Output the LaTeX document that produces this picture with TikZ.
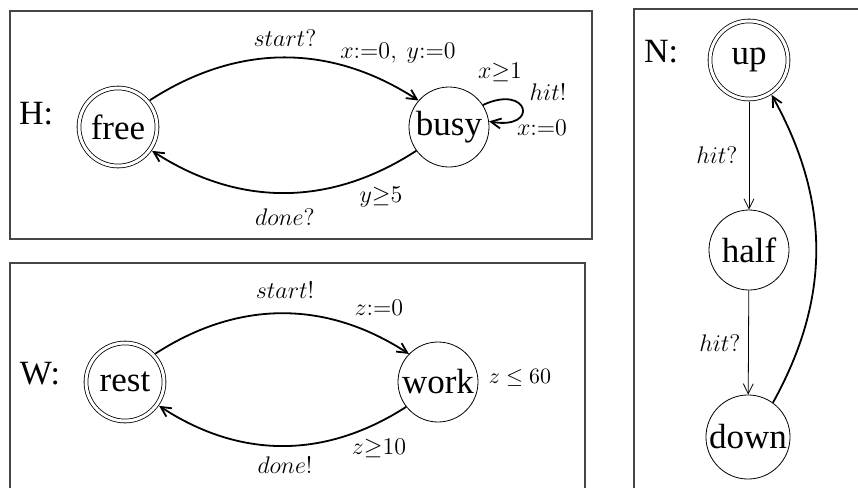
\documentclass[tikz,border=0pt]{standalone}
\usepackage{fontspec}
\setmainfont{Liberation Serif}
\definecolor{boxgray}{RGB}{70,70,70}
\usetikzlibrary{arrows.meta,positioning}

\tikzset{
  loc/.style={circle,draw,thin,minimum size=40pt,inner sep=0.5pt,
    font=\fontsize{17.5}{20}\selectfont},
  initloc/.style={loc,double,double distance=1.5pt,minimum size=39pt,outer sep=1.3pt},
  trans/.style={-{Straight Barb[length=5pt,width=5pt]},line width=0.9pt},
  lbl/.style={font=\fontsize{12}{14}\selectfont,inner sep=1pt},
  autlabel/.style={font=\fontsize{17}{20}\selectfont,inner sep=0pt},
  panel/.style={draw=boxgray,line width=0.8pt}
}

\begin{document}
\begin{tikzpicture}[x=0.5pt,y=0.5pt]
  \useasboundingbox (0,0) rectangle (858,-488);

  % Rahmen
  \draw[panel] (10,-11) rectangle (592,-239);
  \draw[panel] (10,-488) |- (585,-263) -- (585,-488);
  \draw[panel] (634,-488) |- (858,-9);

  % Automat H
  \node[autlabel] (hlab) at (36,-114) {H:};
  \node[initloc] (free) at (118,-127) {free};
  \node[loc] (busy) at (449,-127) {busy};
  \draw[trans] (free.40) to[bend left=33] (busy.139);
  \draw[trans] (busy.216) to[bend left=33] (free.-35);
  \draw[trans] (busy.33) to[out=25,in=-10,looseness=7.5] (busy.8);
  \node[lbl] (hstart) at (285,-38) {$start?$};
  \node[lbl] (hreset) at (398,-53) {$x{:=}0,\ y{:=}0$};
  \node[lbl] (hguard) at (500,-72) {$x{\geq}1$};
  \node[lbl] (hhit) at (548,-92) {$hit!$};
  \node[lbl] (hxres) at (542,-128) {$x{:=}0$};
  \node[lbl] (hyguard) at (381,-197) {$y{\geq}5$};
  \node[lbl] (hdone) at (285,-217) {$done?$};

  % Automat W
  \node[autlabel] (wlab) at (40,-374) {W:};
  \node[initloc] (rest) at (125,-382) {rest};
  \node[loc] (work) at (438,-382) {work};
  \draw[trans] (rest.43) to[bend left=33] (work.136);
  \draw[trans] (work.218) to[bend left=33] (rest.-35);
  \node[lbl] (wstart) at (285,-290) {$start!$};
  \node[lbl] (wreset) at (379,-308) {$z{:=}0$};
  \node[lbl,font=\fontsize{11}{13}\selectfont] (winv) at (520,-378) {$z \leq 60$};
  \node[lbl] (wguard) at (379,-448) {$z{\geq}10$};
  \node[lbl] (wdone) at (285,-465) {$done!$};

  % Automat N
  \node[autlabel] (nlab) at (661,-52) {N:};
  \node[initloc] (up) at (749,-60) {up};
  \node[loc] (half) at (749,-250) {half};
  \node[loc] (down) at (748,-437) {down};
  \draw[trans,thin] (up) -- (half);
  \draw[trans,thin] (half) -- (down);
  \draw[trans] (down.54) to[out=61,in=-61] (up.-57);
  \node[lbl] (nhit1) at (717,-155) {$hit?$};
  \node[lbl] (nhit2) at (720,-343) {$hit?$};

\end{tikzpicture}
\end{document}
